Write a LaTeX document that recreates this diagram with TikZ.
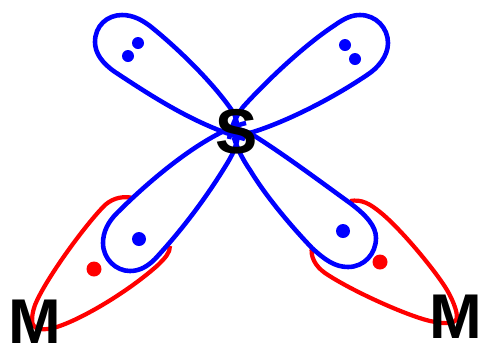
\documentclass[tikz,border=0pt]{standalone}
\usepackage{fontspec}
\setmainfont{Liberation Sans}
\begin{document}
\begin{tikzpicture}[
  x=0.02cm,y=-0.02cm,
  lobe/.style={draw=blue, line width=2.6pt, line join=round},
  bond/.style={draw=red, line width=2.4pt, line join=round},
  atom/.style={font=\fontsize{36}{36}\selectfont\bfseries, inner sep=0pt, text=black},
  edot/.style={circle, draw=none, fill=blue, minimum size=0.24cm, inner sep=0pt},
  mdot/.style={circle, draw=none, fill=red, minimum size=0.3cm, inner sep=0pt}
]
\useasboundingbox (0,0) rectangle (483,346);
% metal bonding lobes
\draw[bond] (133,198) .. controls (125,196) and (114,197) .. (105,205) .. controls (85,225) and (45,280) .. (35,305) .. controls (31,316) and (31,326) .. (36,328) .. controls (45,331) and (55,328) .. (65,324) .. controls (90,314) and (130,290) .. (158,265) .. controls (165,258) and (170,253) .. (170,246);
\draw[bond] (350,201) .. controls (362,199) and (370,204) .. (380,212) .. controls (400,228) and (435,270) .. (447,290) .. controls (454,302) and (459,316) .. (456,320) .. controls (452,325) and (440,323) .. (430,321) .. controls (405,315) and (350,290) .. (325,273) .. controls (315,266) and (310,256) .. (312,247);
% sulfur lobes
\draw[lobe] (245,139) .. controls (195,125) and (150,95) .. (115,72) .. controls (102,63) and (95,53) .. (95,42) .. controls (95,26) and (107,15) .. (122,15) .. controls (133,15) and (142,20) .. (150,26) .. controls (180,50) and (215,85) .. (233,112) .. controls (238,120) and (238,130) .. (234,140);
\draw[lobe] (229,139) .. controls (232,125) and (235,118) .. (243,107) .. controls (260,88) and (300,48) .. (335,25) .. controls (345,18) and (352,15) .. (360,15) .. controls (376,15) and (388,28) .. (388,43) .. controls (388,56) and (378,68) .. (367,75) .. controls (330,100) and (285,122) .. (253,132) .. controls (245,134) and (238,136) .. (233,136);
\draw[lobe] (246,123) .. controls (215,130) and (165,165) .. (117,213) .. controls (108,222) and (103,232) .. (103,243) .. controls (103,259) and (116,271) .. (130,271) .. controls (140,271) and (148,266) .. (155,259) .. controls (180,232) and (205,200) .. (228,162) .. controls (232,155) and (236,148) .. (238,136);
\draw[lobe] (226,128) .. controls (238,128) and (246,131) .. (253,135) .. controls (285,155) and (325,185) .. (350,203) .. controls (366,215) and (376,226) .. (376,238) .. controls (376,254) and (364,267) .. (348,267) .. controls (335,267) and (325,260) .. (312,248) .. controls (290,225) and (265,195) .. (250,170) .. controls (243,160) and (238,150) .. (234,138);
% electrons
\node[edot] (e1) at (138,43) {};
\node[edot] (e2) at (128,56) {};
\node[edot] (e3) at (345,45) {};
\node[edot] (e4) at (355,59) {};
\node[edot,minimum size=0.28cm] (e5) at (139,239) {};
\node[edot,minimum size=0.28cm] (e6) at (343,231) {};
\node[mdot] (m1) at (94,269) {};
\node[mdot] (m2) at (380,262) {};
% atoms
\node[atom] (s) at (237,132) {S};
\node[atom] (ml) at (35,322) {M};
\node[atom] (mr) at (456,317) {M};
\end{tikzpicture}
\end{document}
